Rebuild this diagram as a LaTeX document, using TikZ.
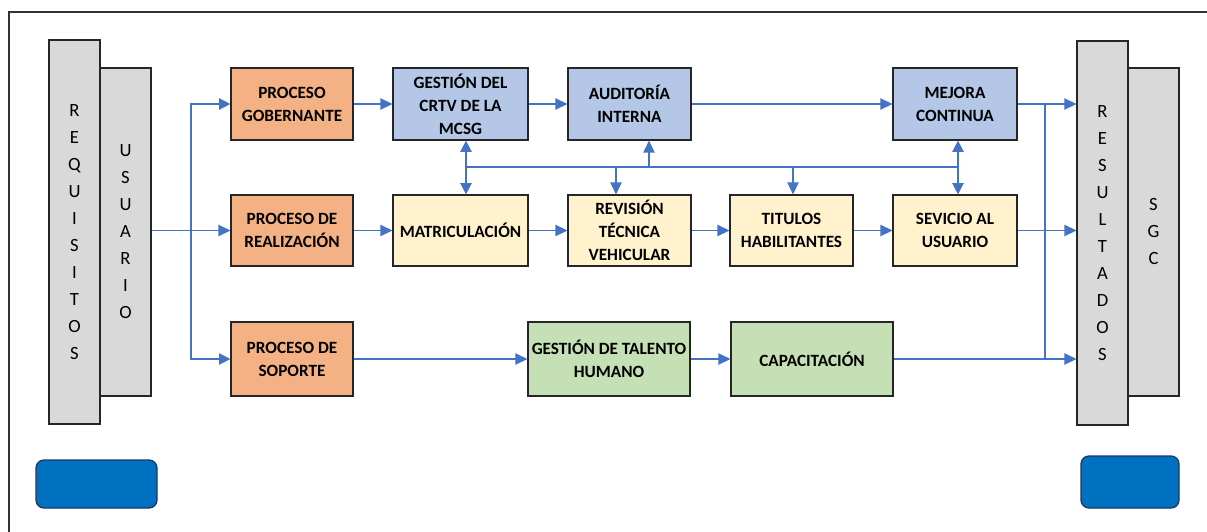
\documentclass[tikz,border=0pt]{standalone}
\usepackage{fontspec}
\setmainfont{Carlito}
\usetikzlibrary{arrows.meta}
\newdimen\pxu \pxu=0.75pt
\definecolor{flow}{HTML}{4472C4}
\definecolor{orangefill}{HTML}{F4B183}
\definecolor{bluefill}{HTML}{B4C7E7}
\definecolor{yellowfill}{HTML}{FFF2CC}
\definecolor{greenfill}{HTML}{C5E0B4}
\definecolor{barfill}{HTML}{D9D9D9}
\definecolor{tagfill}{HTML}{0070C0}
\definecolor{tagline}{HTML}{1F3864}
\begin{document}
\begin{tikzpicture}[x=0.75pt,y=-0.75pt,
  procbox/.style={draw=black!85, line width=0.9pt, align=center, inner sep=0pt,
    font=\fontsize{12.9pt}{17.25pt}\selectfont\bfseries},
  bar/.style={draw=black!85, line width=0.9pt, fill=barfill, minimum width=51\pxu,
    align=center, inner sep=0pt, font=\fontsize{14pt}{20.25pt}\selectfont},
  tag/.style={draw=tagline, line width=1pt, fill=tagfill, rounded corners=8\pxu},
  conn/.style={draw=flow, line width=1.1pt},
  arr/.style={conn, -{Triangle[length=9pt,width=8.5pt]}},
  darr/.style={conn, {Triangle[length=8.5pt,width=8.5pt]}-{Triangle[length=8.5pt,width=8.5pt]}}
]
\useasboundingbox (0,0) rectangle (1207,532);
% outer frame
\draw[black!80, line width=0.8pt] (9,532) -- (9,12) -- (1207,12);

% side bars
\node[bar, minimum height=384\pxu] (req) at (74.5,232) {R\\E\\Q\\U\\I\\S\\I\\T\\O\\S};
\node[bar, minimum height=328\pxu] (usu) at (125.5,232) {U\\S\\U\\A\\R\\I\\O};
\node[bar, minimum height=384\pxu] (res) at (1102.5,233) {R\\E\\S\\U\\L\\T\\A\\D\\O\\S};
\node[bar, minimum height=328\pxu] (sgc) at (1153.5,232) {S\\G\\C};

% bottom tags
\node[tag, minimum width=121\pxu, minimum height=48\pxu] (tagl) at (96.5,484) {};
\node[tag, minimum width=98\pxu, minimum height=52\pxu] (tagr) at (1130,482) {};

% row 1
\node[procbox, fill=orangefill, minimum width=122\pxu, minimum height=72\pxu] (gob) at (292,104) {PROCESO\\GOBERNANTE};
\node[procbox, fill=bluefill, minimum width=135\pxu, minimum height=72\pxu] (gest) at (460.5,104) {GESTIÓN DEL\\CRTV DE LA\\MCSG};
\node[procbox, fill=bluefill, minimum width=123\pxu, minimum height=72\pxu] (aud) at (629.5,104) {AUDITORÍA\\INTERNA};
\node[procbox, fill=bluefill, minimum width=124\pxu, minimum height=72\pxu] (mej) at (955,104) {MEJORA\\CONTINUA};

% row 2
\node[procbox, fill=orangefill, minimum width=122\pxu, minimum height=71\pxu] (real) at (292,230.5) {PROCESO DE\\REALIZACIÓN};
\node[procbox, fill=yellowfill, minimum width=135\pxu, minimum height=71\pxu] (matr) at (460.5,230.5) {MATRICULACIÓN};
\node[procbox, fill=yellowfill, minimum width=123\pxu, minimum height=71\pxu] (rev) at (629.5,230.5) {REVISIÓN\\TÉCNICA\\VEHICULAR};
\node[procbox, fill=yellowfill, minimum width=123\pxu, minimum height=71\pxu] (tit) at (791.5,230.5) {TITULOS\\HABILITANTES};
\node[procbox, fill=yellowfill, minimum width=124\pxu, minimum height=71\pxu] (sev) at (955,230.5) {SEVICIO AL\\USUARIO};

% row 3
\node[procbox, fill=orangefill, minimum width=122\pxu, minimum height=74\pxu] (sop) at (292,359) {PROCESO DE\\SOPORTE};
\node[procbox, fill=greenfill, minimum width=162\pxu, minimum height=74\pxu] (gth) at (609,359) {GESTIÓN DE TALENTO\\HUMANO};
\node[procbox, fill=greenfill, minimum width=162\pxu, minimum height=74\pxu] (cap) at (812,359) {CAPACITACIÓN};

% junction points
\coordinate (sp) at (191,230);
\coordinate (jn) at (1045,230);
\coordinate (b1) at (466,167);
\coordinate (b2) at (616,167);
\coordinate (b3) at (649,167);
\coordinate (b4) at (793,167);
\coordinate (b5) at (958,167);

% input distribution
\draw[arr] (usu.east |- real.west) -- (real.west);
\draw[darr] (gob.west) -| (sp) |- (sop.west);

% row flows
\draw[arr] (gob) -- (gest);
\draw[arr] (gest) -- (aud);
\draw[arr] (aud) -- (mej);
\draw[arr] (real) -- (matr);
\draw[arr] (matr) -- (rev);
\draw[arr] (rev) -- (tit);
\draw[arr] (tit) -- (sev);
\draw[arr] (sop) -- (gth);
\draw[arr] (gth) -- (cap);

% outputs
\draw[arr] (mej.east) -- (res.west |- mej.east);
\draw[arr] (sev.east) -- (res.west |- sev.east);
\draw[arr] (cap.east) -- (res.west |- cap.east);
\draw[conn] (mej.east -| jn) -- (cap.east -| jn);

% feedback bus
\draw[conn] (b1) -- (b5);
\draw[darr] (gest.south -| b1) -- (matr.north -| b1);
\draw[darr] (mej.south -| b5) -- (sev.north -| b5);
\draw[arr] (b3) -- (aud.south -| b3);
\draw[arr] (b2) -- (rev.north -| b2);
\draw[arr] (b4) -- (tit.north -| b4);
\end{tikzpicture}
\end{document}
